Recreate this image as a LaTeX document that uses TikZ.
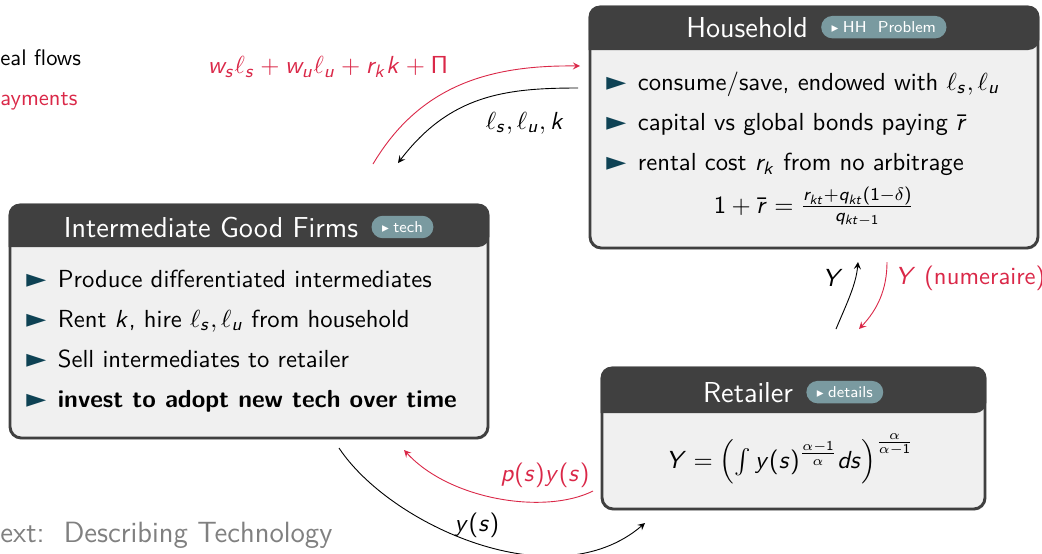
\documentclass[tikz,border=0pt,11pt]{standalone}
\usepackage[no-math]{fontspec}
\newfontfamily\trifont{DejaVu Sans}
\renewcommand{\familydefault}{\sfdefault}
\usepackage{amsmath}
\usetikzlibrary{positioning,fit,shapes.misc,shadows}

% sans letters in math, as on the slide
\DeclareSymbolFont{sfletters}{OT1}{cmss}{m}{sl}
\SetSymbolFont{operators}{normal}{OT1}{cmss}{m}{n}
\makeatletter
\@tfor\mltr:=abcdefghijklmnopqrstuvwxyzABCDEFGHIJKLMNOPQRSTUVWXYZ\do{%
  \edef\mtmp{\noexpand\DeclareMathSymbol{\mltr}{\noexpand\mathalpha}{sfletters}{`\mltr}}\mtmp}
\makeatother

\definecolor{headgray}{RGB}{64,64,64}
\definecolor{bodygray}{RGB}{240,240,240}
\definecolor{pillteal}{RGB}{122,154,160}
\definecolor{bulletteal}{RGB}{14,66,84}
\definecolor{payred}{RGB}{218,40,72}
\definecolor{nextgray}{RGB}{128,128,128}

\newcommand{\bul}{\makebox[0.49cm][l]{\textcolor{bulletteal}{\trifont\fontsize{11.5}{11}\selectfont ►}}}
\newcommand{\btn}{{\trifont\fontsize{6}{6}\selectfont ▸}\hspace{2pt}}

\tikzset{>=stealth}
\tikzset{
  panel/.style={draw=headgray, line width=1.3pt, fill=bodygray, rounded corners=5pt, inner sep=0pt,
    drop shadow={opacity=0.25, shadow xshift=0.5pt, shadow yshift=-0.7pt}},
  paneltitle/.style={text=white, font=\fontsize{12.8}{15}\selectfont, inner sep=1pt},
  pill/.style={rounded rectangle, fill=pillteal, text=white, font=\fontsize{7}{8}\selectfont,
    minimum height=0.35cm, inner xsep=4pt, inner ysep=1pt},
  itemtext/.style={anchor=base west, inner sep=0pt},
  legend/.style={anchor=base west, inner sep=0pt},
  flow/.style={->, black},
  payflow/.style={->, payred},
}

\begin{document}
\begin{tikzpicture}[x=0.0156cm, y=-0.0156cm]
  \useasboundingbox (0,0) rectangle (1042,553);

  % legend and footer
  \node[legend] (real) at (0,65) {\small eal flows};
  \node[legend, text=payred] (pay) at (0,105) {\small ayments};
  \node[legend, text=nextgray, font=\fontsize{13}{15}\selectfont] (next) at (0,542) {ext:\ \ Describing Technology};

  % household
  \node[panel, fit={(590,7) (1038,248)}] (hh) {};
  \fill[headgray] (hh.west |- 0,50) [rounded corners=5pt] |- (hh.north) -| (hh.east |- 0,50) [sharp corners] -- cycle;
  \node[paneltitle, anchor=base] (hhtitle) at (747,37) {Household};
  \node[pill, right=0.16cm of hhtitle] (hhbtn) {\btn HH\ \ Problem};
  \node[itemtext] (hh1) at (606,90) {\bul consume/save, endowed with $\ell_s,\ell_u$};
  \node[itemtext] (hh2) at (606,130) {\bul capital vs global bonds paying $\bar r$};
  \node[itemtext] (hh3) at (606,170) {\bul rental cost $r_k$ from no arbitrage};
  \node[anchor=base, inner sep=0pt] (hheq) at (814,213) {$1+\bar r=\frac{r_{kt}+q_{kt}(1-\delta)}{q_{kt-1}}$};

  % intermediate good firms
  \node[panel, fit={(10,205) (488,438)}] (firms) {};
  \fill[headgray] (firms.west |- 0,247) [rounded corners=5pt] |- (firms.north) -| (firms.east |- 0,247) [sharp corners] -- cycle;
  \node[paneltitle, anchor=base] (firmstitle) at (211,237) {Intermediate Good Firms};
  \node[pill, right=0.16cm of firmstitle] (firmsbtn) {\btn tech};
  \node[itemtext] (f1) at (26,287) {\bul Produce differentiated intermediates};
  \node[itemtext] (f2) at (26,327) {\bul Rent $k$, hire $\ell_s,\ell_u$ from household};
  \node[itemtext] (f3) at (26,367) {\bul Sell intermediates to retailer};
  \node[itemtext] (f4) at (26,407) {\bul \textbf{invest to adopt new tech over time}};

  % retailer
  \node[panel, fit={(602,368) (985,509)}] (rt) {};
  \fill[headgray] (rt.west |- 0,413) [rounded corners=5pt] |- (rt.north) -| (rt.east |- 0,413) [sharp corners] -- cycle;
  \node[paneltitle, anchor=base] (rttitle) at (748,402) {Retailer};
  \node[pill, right=0.16cm of rttitle] (rtbtn) {\btn details};
  \node[anchor=base, inner sep=0pt] (rteq) at (790,468) {$Y=\left(\int y(s)^{\frac{\alpha-1}{\alpha}}ds\right)^{\frac{\alpha}{\alpha-1}}$};

  % flow labels
  \node[text=payred] (paylbl) at (328,67) {$w_s\ell_s+w_u\ell_u+r_kk+\Pi$};
  \node (faclbl) at (525,123) {$\ell_s,\ell_u,k$};
  \node (ylbl) at (833,278) {$Y$};
  \node[text=payred, anchor=base west, inner sep=0pt] (numlbl) at (895,284) {$Y$ (numeraire)};
  \node[text=payred] (pylbl) at (545,475) {$p(s)y(s)$};
  \node (yslbl) at (477,525) {$y(s)$};

  % flow ends
  \coordinate (payS) at (373,164);
  \coordinate (payE) at (580,66);
  \coordinate (facS) at (578,88);
  \coordinate (facE) at (398,163);
  \coordinate (yupS) at (836,329);
  \coordinate (yupE) at (858,262);
  \coordinate (ydnS) at (887,262);
  \coordinate (ydnE) at (859,329);
  \coordinate (ysS) at (339,448);
  \coordinate (ysE) at (645,523);
  \coordinate (pyS) at (593,491);
  \coordinate (pyE) at (404,450);

  \draw[payflow] (payS) .. controls (420,85) and (490,65) .. (payE);
  \draw[flow] (facS) .. controls (505,88) and (450,95) .. (facE);
  \draw[flow] (yupS) .. controls (846,305) and (856,285) .. (yupE);
  \draw[payflow] (ydnS) .. controls (887,290) and (877,310) .. (ydnE);
  \draw[flow] (ysS) .. controls (390,525) and (555,600) .. (ysE);
  \draw[payflow] (pyS) .. controls (545,515) and (450,500) .. (pyE);
\end{tikzpicture}
\end{document}
